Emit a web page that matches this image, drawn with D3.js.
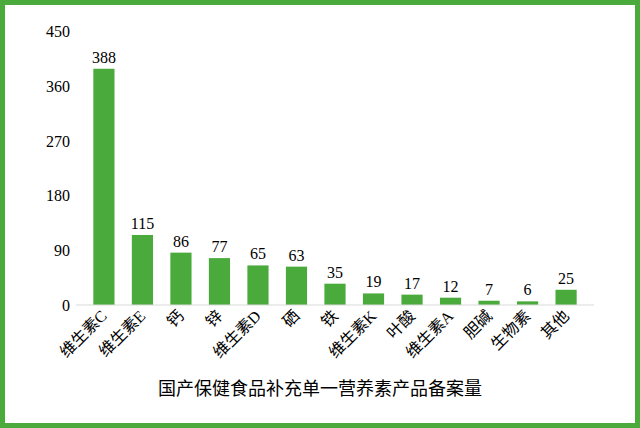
<!DOCTYPE html>
<html><head><meta charset="utf-8">
<script src="https://cdn.jsdelivr.net/npm/d3@7"></script>
<style>body{margin:0;background:#fff}</style>
</head><body>
<svg id="chart" width="640" height="428"></svg>
<script>
const categories = ["维生素C","维生素E","钙","锌","维生素D","硒","铁","维生素K","叶酸","维生素A","胆碱","生物素","其他"];
const values = [388,115,86,77,65,63,35,19,17,12,7,6,25];
const yTicks = [0,90,180,270,360,450];
const title = "国产保健食品补充单一营养素产品备案量";

const font = "'Liberation Serif','DejaVu Serif','Noto Sans CJK SC',serif";
const green = "#4aab3c";
const svg = d3.select("#chart");

svg.append("rect").attr("x",2.5).attr("y",2.5).attr("width",635).attr("height",423)
  .attr("fill","none").attr("stroke",green).attr("stroke-width",5);

const x = d3.scaleBand().domain(categories).range([76,594]).padding(0.45);
const y = d3.scaleLinear().domain([0,450]).range([305,31]);

svg.append("g").selectAll("rect").data(values).enter().append("rect")
  .attr("x",(d,i)=>x(categories[i])).attr("y",d=>y(d))
  .attr("width",x.bandwidth()).attr("height",d=>y(0)-y(d)).attr("fill",green);

svg.append("line").attr("x1",76).attr("x2",594).attr("y1",y(0)).attr("y2",y(0))
  .attr("stroke","#d9d9d9");

svg.append("g").selectAll("text").data(yTicks).enter().append("text")
  .attr("x",70).attr("y",d=>y(d)+6).attr("text-anchor","end")
  .style("font-family",font).style("font-size","16px").attr("fill","#000").text(d=>d);

svg.append("g").selectAll("text").data(values).enter().append("text")
  .attr("x",(d,i)=>x(categories[i])+x.bandwidth()/2).attr("y",d=>y(d)-6)
  .attr("text-anchor","middle").style("font-family",font).style("font-size","16px").text(d=>d);

svg.append("g").selectAll("text").data(categories).enter().append("text")
  .attr("transform",d=>`translate(${x(d)+x.bandwidth()/2+4},${y(0)+12}) rotate(-45)`)
  .attr("text-anchor","end").style("font-family",font).style("font-size","16px").text(d=>d);

svg.append("text").attr("x",320).attr("y",395).attr("text-anchor","middle")
  .style("font-family",font).style("font-size","18px").text(title);
</script>
</body></html>
